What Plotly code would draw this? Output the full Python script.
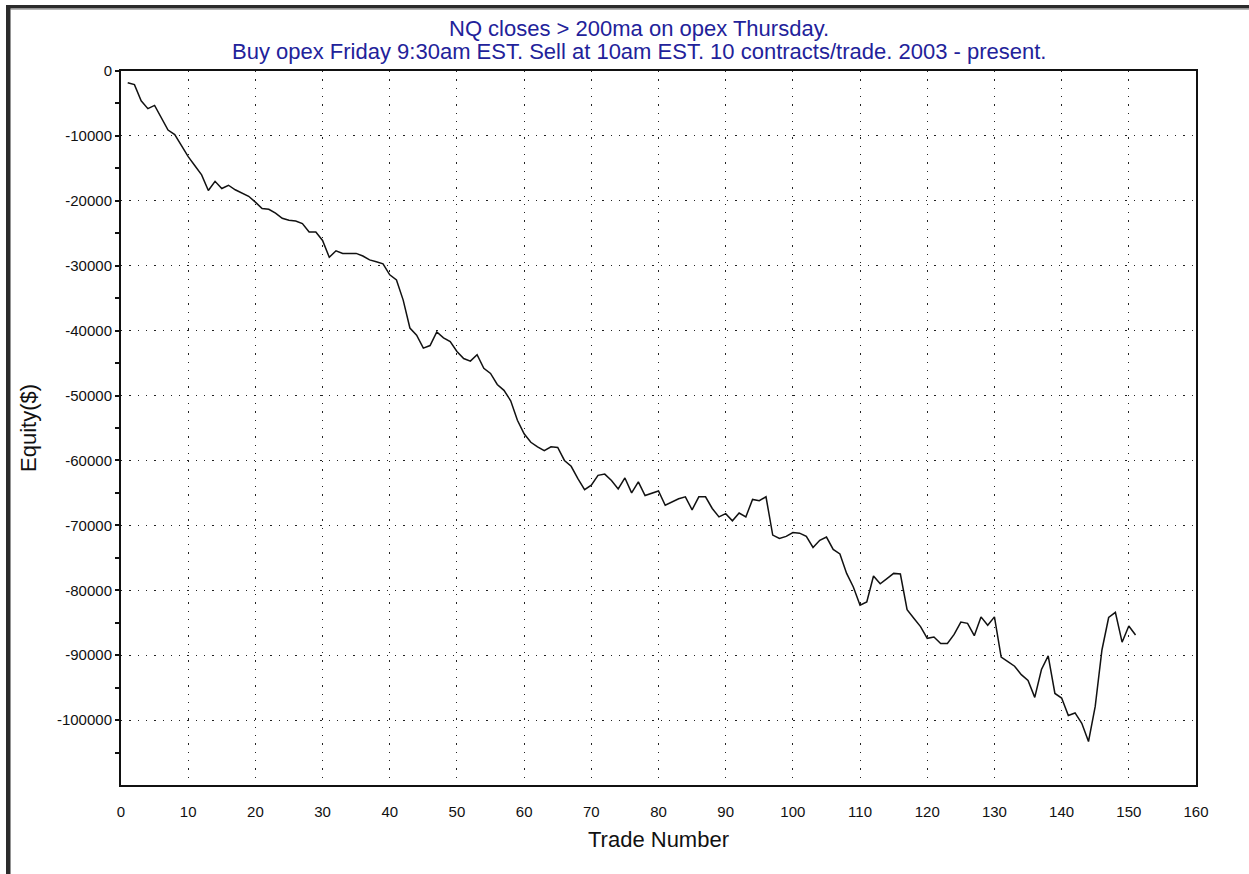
import plotly.graph_objects as go

# equity curve, one value per trade
trade_numbers = list(range(1, 152))
equity = [
    -1800, -2100, -4600, -5800, -5300, -7200, -9100, -9800, -11600, -13200,
    -14600, -16000, -18400, -17000, -18100, -17600, -18300, -18800, -19300, -20200,
    -21200, -21300, -21900, -22700, -23000, -23100, -23500, -24800, -24800, -26100,
    -28700, -27700, -28100, -28100, -28100, -28500, -29100, -29400, -29700, -31400,
    -32200, -35300, -39600, -40700, -42700, -42300, -40200, -41100, -41700, -43200,
    -44300, -44700, -43700, -45800, -46600, -48300, -49200, -50800, -53800, -55900,
    -57200, -57900, -58500, -57900, -58000, -60000, -60900, -62800, -64500, -63800,
    -62300, -62100, -63100, -64400, -62700, -65000, -63300, -65400, -65000, -64700,
    -66900, -66400, -65900, -65600, -67600, -65600, -65600, -67400, -68700, -68200,
    -69300, -68100, -68700, -66000, -66200, -65600, -71500, -72000, -71700, -71100,
    -71200, -71700, -73400, -72300, -71800, -73700, -74400, -77400, -79500, -82300,
    -81800, -77800, -79000, -78200, -77400, -77500, -83000, -84300, -85600, -87400,
    -87200, -88200, -88200, -86800, -84900, -85100, -87000, -84100, -85400, -84100,
    -90300, -91000, -91700, -93000, -93900, -96500, -92200, -90100, -95900, -96600,
    -99300, -98900, -100500, -103300, -97900, -89200, -84200, -83400, -88000, -85500,
    -86900,
]

x_ticks = [0, 10, 20, 30, 40, 50, 60, 70, 80, 90, 100, 110, 120, 130, 140, 150, 160]
x_minor = [5, 15, 25, 35, 45, 55, 65, 75, 85, 95, 105, 115, 125, 135, 145, 155]
y_ticks = [0, -10000, -20000, -30000, -40000, -50000, -60000, -70000, -80000, -90000, -100000]
y_labels = ["0", "-10000", "-20000", "-30000", "-40000", "-50000", "-60000",
            "-70000", "-80000", "-90000", "-100000"]
y_minor = [v - 5000 for v in y_ticks]

title_line1 = "NQ closes > 200ma on opex Thursday."
title_line2 = "Buy opex Friday 9:30am EST. Sell at 10am EST. 10 contracts/trade. 2003 - present."

FONT = "Liberation Sans, Arial, sans-serif"
X_RANGE = [0, 160]
Y_RANGE = [-110000, 0]

fig = go.Figure()
fig.add_trace(go.Scatter(
    x=trade_numbers, y=equity, mode="lines",
    line=dict(color="#111111", width=1.5),
    showlegend=False, hoverinfo="x+y",
))

grid = dict(showgrid=True, gridcolor="#222222", gridwidth=1.3, griddash="1.3px,7px")

fig.update_layout(
    width=1249, height=874,
    margin=dict(l=121, r=53, t=71, b=89),
    paper_bgcolor="white", plot_bgcolor="white",
    font=dict(family=FONT, color="#111111"),
    showlegend=False,
    xaxis=dict(
        range=X_RANGE, tickvals=x_ticks, ticks="",
        tickfont=dict(size=15), ticklabelstandoff=12,
        showline=True, linecolor="#111111", linewidth=2, mirror=True,
        zeroline=False,
        title=dict(text="Trade Number", font=dict(size=22), standoff=13),
        **grid,
    ),
    yaxis=dict(
        range=Y_RANGE, tickvals=y_ticks, ticktext=y_labels,
        ticks="outside", ticklen=4, tickwidth=1.5, tickcolor="#111111",
        minor=dict(tickvals=y_minor, ticks="outside", ticklen=4,
                   tickwidth=1.5, tickcolor="#111111", showgrid=False),
        tickfont=dict(size=15),
        showline=True, linecolor="#111111", linewidth=2, mirror=True,
        zeroline=False,
        title=dict(text="Equity($)", font=dict(size=22), standoff=14),
        **grid,
    ),
    # inside half of the crossing ticks on the left axis
    yaxis2=dict(
        range=Y_RANGE, overlaying="y", side="left", anchor="x",
        tickvals=y_ticks, ticks="inside", ticklen=4, tickwidth=1.5,
        tickcolor="#111111", showticklabels=False,
        minor=dict(tickvals=y_minor, ticks="inside", ticklen=4,
                   tickwidth=1.5, tickcolor="#111111"),
        showgrid=False, showline=False, zeroline=False,
    ),
    # top axis carries crossing ticks every 5 trades
    xaxis2=dict(
        range=X_RANGE, overlaying="x", side="top", anchor="y",
        tickvals=x_ticks[1:-1] + x_minor, ticks="outside", ticklen=4,
        tickwidth=1.5, tickcolor="#111111", showticklabels=False,
        showgrid=False, showline=False, zeroline=False,
    ),
    xaxis3=dict(
        range=X_RANGE, overlaying="x", side="top", anchor="y",
        tickvals=x_ticks[1:-1] + x_minor, ticks="inside", ticklen=4,
        tickwidth=1.5, tickcolor="#111111", showticklabels=False,
        showgrid=False, showline=False, zeroline=False,
    ),
)

# two-line title, placed tight like the original
for text, ypix in [(title_line1, 29), (title_line2, 51)]:
    fig.add_annotation(
        text=text, xref="paper", yref="paper",
        x=(639 - 121) / 1075, y=(785 - ypix) / 714,
        xanchor="center", yanchor="middle", showarrow=False,
        font=dict(family=FONT, size=22, color="#22229a"),
    )

# window frame: dark bar along the top and down the left edge
def px_x(p):
    return (p - 121) / 1075

def px_y(p):
    return (785 - p) / 714

fig.add_shape(type="rect", xref="paper", yref="paper",
              x0=px_x(6), x1=px_x(1249), y0=px_y(8.5), y1=px_y(5),
              fillcolor="#2b2b2b", line=dict(width=0), layer="above")
fig.add_shape(type="line", xref="paper", yref="paper",
              x0=px_x(10.5), x1=px_x(1249), y0=px_y(9.5), y1=px_y(9.5),
              line=dict(color="#b4b4b4", width=1), layer="above")
fig.add_shape(type="rect", xref="paper", yref="paper",
              x0=px_x(6), x1=px_x(10.5), y0=px_y(874), y1=px_y(5),
              fillcolor="#2b2b2b", line=dict(width=0), layer="above")

fig.write_html("out.html", config={"displayModeBar": False},
               post_script="document.body.style.margin='0';")
